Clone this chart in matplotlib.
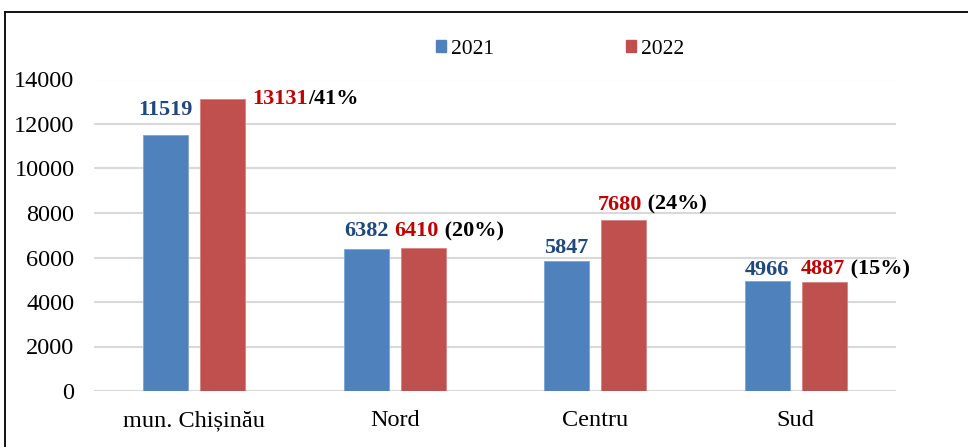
import matplotlib.pyplot as plt
from matplotlib.lines import Line2D
from matplotlib.patches import Patch
import numpy as np

# data
regions = ["mun. Chișinău", "Nord", "Centru", "Sud"]
years = ["2021", "2022"]
values_2021 = [11519, 6382, 5847, 4966]
values_2022 = [13131, 6410, 7680, 4887]
shares_2022 = [41, 20, 24, 15]
yticks = [0, 2000, 4000, 6000, 8000, 10000, 12000, 14000]

# label placement (offsets in points)
offs_2021 = [(0, 17.8), (0, 13.0), (0, 9.4), (0, 7.9)]
offs_2022 = [(5.3, 0.0), (-4.8, 12.2), (-2.9, 11.2), (-0.7, 9.2)]

BLUE = "#4f81bd"
RED = "#c0504d"
BLUE_TXT = "#1f497d"
RED_TXT = "#c00000"

plt.rcParams["font.family"] = ["Liberation Serif", "DejaVu Serif"]

fig = plt.figure(figsize=(9.68, 4.47), dpi=100)
ax = fig.add_axes([94 / 968, 1 - 391 / 447, 802 / 968, 311.5 / 447])

x = np.arange(len(regions))
w = 0.224
off = 0.143
ax.bar(x - off, values_2021, w, color=BLUE, edgecolor="#7ea3d3", linewidth=0.6, zorder=3)
ax.bar(x + off, values_2022, w, color=RED, edgecolor="#d58583", linewidth=0.6, zorder=3)

ax.set_xlim(-0.5, 3.5)
ax.set_ylim(0, 14000)
ax.set_yticks(yticks)
ax.set_xticks(x)
ax.set_xticklabels(regions)
ax.tick_params(axis="y", length=0, pad=14, labelsize=17.5)
ax.tick_params(axis="x", length=0, pad=14, labelsize=17.5)
for s in ax.spines.values():
    s.set_visible(False)
ax.grid(axis="y", color="#d9d9d9", linewidth=1.5, zorder=0)

# 2021 labels
for i, v in enumerate(values_2021):
    ax.annotate(str(v), xy=(x[i] - off, v), xytext=offs_2021[i], textcoords="offset points",
                ha="center", va="center", fontsize=16, fontweight="bold", color=BLUE_TXT)

# 2022 labels with share
for i, v in enumerate(values_2022):
    if i == 0:
        anchor = x[i] + off + w / 2
        suffix = "/%d%%" % shares_2022[i]
    else:
        anchor = x[i] + off - w / 2
        suffix = " (%d%%)" % shares_2022[i]
    t = ax.annotate(str(v), xy=(anchor, v), xytext=offs_2022[i], textcoords="offset points",
                    ha="left", va="center", fontsize=16, fontweight="bold", color=RED_TXT)
    ax.annotate(suffix, xy=(1, 0), xycoords=t, ha="left", va="bottom",
                fontsize=16, fontweight="bold", color="black")

# legend
handles = [Patch(color=BLUE), Patch(color=RED)]
fig.legend(handles, years, loc="center left", bbox_to_anchor=(436 / 968, 1 - 49 / 447),
           ncol=2, frameon=False, fontsize=15.5, handlelength=0.47, handleheight=0.5,
           handletextpad=0.25, columnspacing=6.1, borderpad=0, borderaxespad=0)

# outer frame (cropped at right and bottom)
fig.add_artist(Line2D([5 / 968, 1.0], [1 - 12 / 447, 1 - 12 / 447], color="#111111",
                      linewidth=1.4, transform=fig.transFigure))
fig.add_artist(Line2D([5 / 968, 5 / 968], [0.0, 1 - 12 / 447], color="#111111",
                      linewidth=1.4, transform=fig.transFigure))

fig.savefig("out.png", dpi=100)
